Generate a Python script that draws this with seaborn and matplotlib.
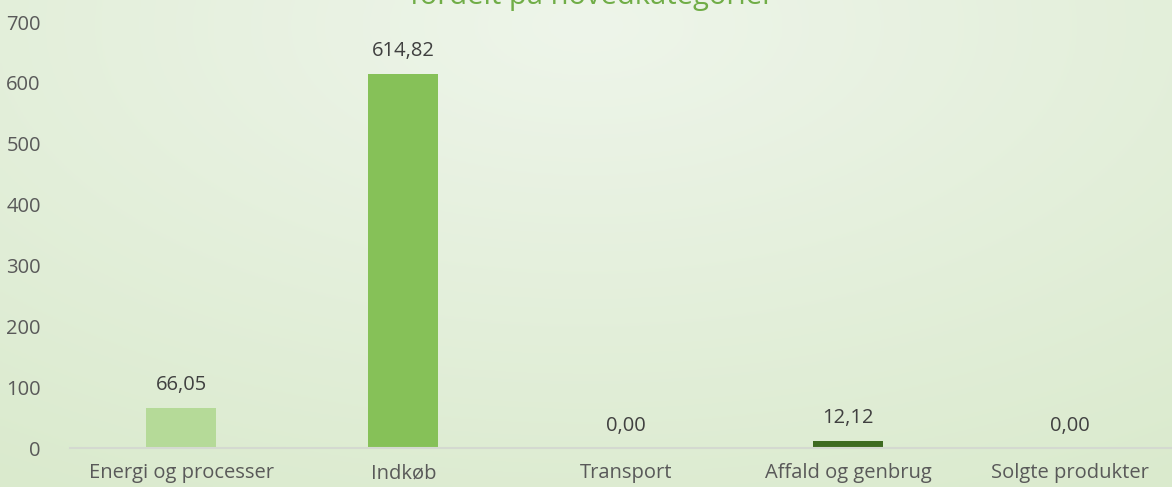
import matplotlib
matplotlib.use("Agg")
import matplotlib.pyplot as plt
import numpy as np
import pandas as pd
import seaborn as sns

categories = ["Energi og processer", "Indkøb", "Transport", "Affald og genbrug", "Solgte produkter"]
values = [66.05, 614.82, 0.00, 12.12, 0.00]
bar_colors = ["#b5da98", "#86c158", "#9ccc75", "#3e6b21", "#2f5318"]
y_ticks = [0, 100, 200, 300, 400, 500, 600, 700]
title_text = "fordelt på hovedkategorier"

sns.set_theme(style="white")
plt.rcParams["font.family"] = ["Open Sans", "DejaVu Sans"]

fig = plt.figure(figsize=(11.72, 4.87), dpi=100)

# soft radial green background like the slide
bg = fig.add_axes([0, 0, 1, 1], zorder=-10)
yy, xx = np.mgrid[0:1:200j, 0:1:400j]
r = np.sqrt(((xx - 0.5) / 0.9) ** 2 + ((yy - 0.05) / 1.1) ** 2)
r = np.clip(r / r.max(), 0, 1)
c0 = np.array([0xee, 0xf5, 0xea]) / 255
c1 = np.array([0xda, 0xea, 0xcd]) / 255
img = c0[None, None, :] * (1 - r[..., None]) + c1[None, None, :] * r[..., None]
bg.imshow(img, aspect="auto", extent=[0, 1, 1, 0])
bg.set_axis_off()

df = pd.DataFrame({"Kategori": categories, "Værdi": values})

ax = fig.add_axes([70 / 1172, 1 - 448 / 487, 1111.5 / 1172, 426 / 487])
ax.set_facecolor("none")
sns.barplot(data=df, x="Kategori", y="Værdi", hue="Kategori", palette=bar_colors,
            width=0.315, legend=False, ax=ax, saturation=1, linewidth=0)

ax.set_ylim(0, 700)
ax.set_xlim(-0.5, len(categories) - 0.5)
ax.set_yticks(y_ticks)
ax.set_yticklabels([str(t) for t in y_ticks], fontsize=14.5, color="#595959")
ax.tick_params(axis="y", length=0, pad=21)
ax.tick_params(axis="x", which="major", length=0, pad=11, labelsize=14.5, labelcolor="#595959")
ax.set_xticks(np.arange(-0.5, len(categories)), minor=True)
ax.tick_params(axis="x", which="minor", length=6, width=1.2, color="#d4d9d0", direction="out")
ax.set_xlabel("")
ax.set_ylabel("")

for side in ["top", "right", "left"]:
    ax.spines[side].set_visible(False)
ax.spines["bottom"].set_color("#d4d9d0")
ax.spines["bottom"].set_linewidth(1.5)

for i, v in enumerate(values):
    ax.annotate(f"{v:.2f}".replace(".", ","), (i, v), xytext=(0, 9),
                textcoords="offset points", ha="center", va="bottom",
                fontsize=14.5, color="#404040")

# title sits mostly above the visible area, as in the reference crop
fig.text(0.505, 1 - 4 / 487, title_text, ha="center", va="baseline",
         fontsize=21, color="#70ad47")

fig.savefig("out.png", dpi=100)
